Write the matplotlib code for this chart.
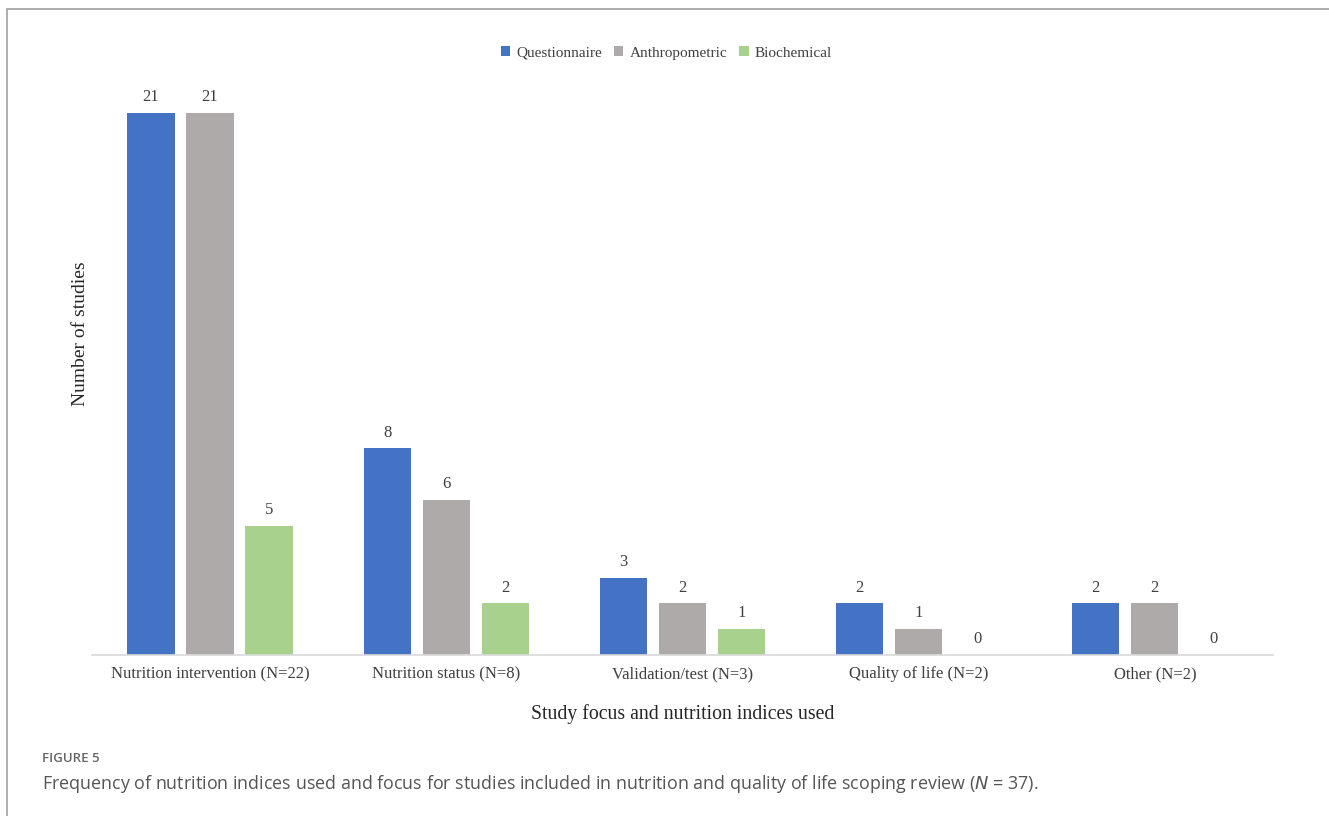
import numpy as np
import matplotlib.pyplot as plt
from matplotlib.patches import Rectangle

categories = ['Nutrition intervention (N=22)', 'Nutrition status (N=8)',
              'Validation/test (N=3)', 'Quality of life (N=2)', 'Other (N=2)']
series_names = ['Questionnaire', 'Anthropometric', 'Biochemical']
questionnaire = [21, 8, 3, 2, 2]
anthropometric = [21, 6, 2, 1, 2]
biochemical = [5, 2, 1, 0, 0]
colors = ['#4472C4', '#AEAAAA', '#A9D18E']

serif = 'Liberation Serif'
sans = 'Open Sans'

fig = plt.figure(figsize=(13.29, 8.16), dpi=100)
ax = fig.add_axes([0.0692, 0.1973, 0.8886, 0.6961])

x = np.arange(len(categories))
offsets = [-0.25, 0, 0.25]
for vals, name, color, off in zip([questionnaire, anthropometric, biochemical],
                                  series_names, colors, offsets):
    bars = ax.bar(x + off, vals, width=0.2, color=color, label=name, zorder=2)
    for b, v in zip(bars, vals):
        ax.text(b.get_x() + b.get_width() / 2, v + 0.3, str(v), ha='center', va='bottom',
                fontsize=12, family=serif, color='#404040')

ax.set_xlim(-0.5, len(categories) - 0.5)
ax.set_ylim(0, 22)
ax.set_xticks(x)
ax.set_xticklabels(categories, family=serif, fontsize=12, color='#404040')
ax.tick_params(axis='x', length=0, pad=8)
ax.set_yticks([])
for s in ['top', 'right', 'left']:
    ax.spines[s].set_visible(False)
ax.spines['bottom'].set_color('#d9d9d9')
ax.spines['bottom'].set_linewidth(1.2)

ax.set_xlabel('Study focus and nutrition indices used', family=serif, fontsize=14.2,
              color='#262626', labelpad=16)
ax.set_ylabel('Number of studies', family=serif, fontsize=14, color='#262626', va='center')
ax.yaxis.set_label_coords(-0.0093, 0.565)

leg = fig.legend(loc='center', bbox_to_anchor=(0.5015, 0.935), ncol=3, frameon=False,
                 prop={'family': serif, 'size': 11}, handlelength=0.6, handleheight=0.6,
                 handletextpad=0.4, columnspacing=0.8, labelcolor='#404040')

# outer frame of the figure panel
fig.patches.append(Rectangle((7 / 1329, -0.1), 1.2, 1 - 9 / 816 + 0.1, transform=fig.transFigure,
                             fill=False, edgecolor='#a0a0a0', linewidth=1.2))

fig.text(42 / 1329, 1 - 758 / 816, 'FIGURE 5', family=sans, fontsize=9.5, weight='semibold',
         color='#666666', va='center', ha='left')
fig.text(42 / 1329, 1 - 784 / 816,
         'Frequency of nutrition indices used and focus for studies included in nutrition and quality of life scoping review ($\\it{N}$ = 37).',
         family=sans, fontsize=12.9, color='#555555', va='center', ha='left')

fig.savefig('out.png', dpi=100)
